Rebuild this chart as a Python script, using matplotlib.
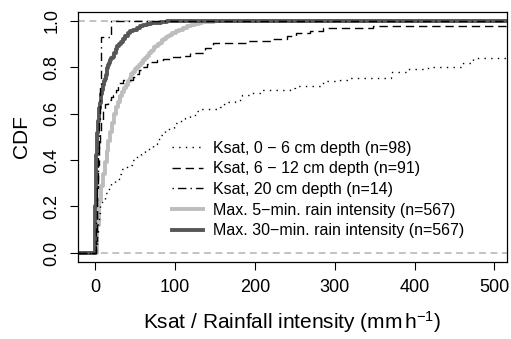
import numpy as np
import matplotlib
matplotlib.use("Agg")
import matplotlib.pyplot as plt
from matplotlib.lines import Line2D

plt.rcParams['font.family'] = ['Liberation Sans', 'DejaVu Sans']
plt.rcParams['mathtext.fontset'] = 'custom'
plt.rcParams['mathtext.rm'] = 'Liberation Sans'
plt.rcParams['mathtext.it'] = 'Liberation Sans:italic'

# ECDF knots: jump location (mm/h) and CDF after the jump
ksat_0_6_x = [1, 2, 3, 4, 5, 6, 9, 13, 17, 20, 25, 30, 33, 40, 46, 52, 57, 62,
              67, 73, 78, 83, 87, 93, 99, 106, 113, 119, 125, 131, 157, 161,
              167, 175, 184, 194, 209, 244, 250, 282, 290, 307, 319, 371, 390,
              417, 461, 473]
ksat_0_6_cdf = [0.02, 0.05, 0.09, 0.13, 0.17, 0.21, 0.23, 0.26, 0.28, 0.30,
                0.32, 0.34, 0.36, 0.38, 0.40, 0.42, 0.43, 0.44, 0.45, 0.47,
                0.49, 0.51, 0.53, 0.54, 0.56, 0.57, 0.58, 0.59, 0.61, 0.62,
                0.63, 0.64, 0.65, 0.66, 0.68, 0.69, 0.70, 0.71, 0.72, 0.73,
                0.74, 0.745, 0.755, 0.78, 0.79, 0.80, 0.82, 0.84]

ksat_6_12_x = [1, 2, 3, 4, 5, 6, 8, 10, 13, 16, 20, 23, 26, 29, 35, 48, 50,
               55, 58, 65, 68, 77, 85, 94, 106, 119, 138, 148, 190, 223, 240,
               252, 269, 285, 348]
ksat_6_12_cdf = [0.05, 0.15, 0.28, 0.38, 0.46, 0.52, 0.57, 0.61, 0.64, 0.66,
                 0.67, 0.68, 0.70, 0.73, 0.745, 0.757, 0.77, 0.788, 0.80, 0.815,
                 0.824, 0.83, 0.837, 0.843, 0.848, 0.859, 0.881, 0.903, 0.912,
                 0.923, 0.934, 0.945, 0.956, 0.967, 0.978]

# 20 cm depth: the 14 measurements
ksat_20 = [1.2, 1.8, 2.4, 3.0, 3.6, 4.2, 5.0, 5.6, 6.2, 6.6, 7.0, 7.3, 7.6, 20.5]

rain5_x = [2.4, 4.8, 7.2, 9.6, 12, 14.4, 16.8, 19.2, 21.6, 24, 26.4, 28.8,
           31.2, 33.6, 36, 38.4, 40.8, 43.2, 45.6, 48, 50.4, 52.8, 55.2, 57.6,
           60, 62.4, 64.8, 67.2, 69.6, 72, 74.4, 76.8, 79.2, 81.6, 84, 86.4,
           88.8, 91.2, 93.6, 96, 100.8, 105.6, 110.4, 115.2, 120, 124.8, 129.6,
           134.4, 139.2, 148.8, 158.4, 172.8]
rain5_cdf = [0.12, 0.23, 0.29, 0.34, 0.39, 0.44, 0.48, 0.52, 0.56, 0.60, 0.63,
             0.65, 0.675, 0.695, 0.71, 0.725, 0.74, 0.755, 0.77, 0.78, 0.79,
             0.80, 0.81, 0.82, 0.83, 0.84, 0.85, 0.86, 0.87, 0.875, 0.885,
             0.89, 0.90, 0.905, 0.915, 0.92, 0.93, 0.935, 0.94, 0.945, 0.955,
             0.962, 0.97, 0.976, 0.982, 0.986, 0.99, 0.993, 0.995, 0.997,
             0.998, 1.0]

rain30_x = [0.4, 0.8, 1.2, 1.6, 2.0, 2.4, 2.8, 3.2, 3.6, 4.0, 4.8, 5.6, 6.4,
            7.2, 8.0, 8.8, 9.6, 10.4, 11.2, 12, 13.2, 14.4, 15.6, 16.8, 18,
            19.2, 20.4, 22, 24, 26, 28, 30, 32.4, 35, 38, 41, 44, 48, 52, 56,
            60, 65, 70, 76, 82, 90, 100, 110]
rain30_cdf = [0.20, 0.30, 0.37, 0.42, 0.46, 0.49, 0.515, 0.535, 0.555, 0.57,
              0.60, 0.625, 0.645, 0.665, 0.685, 0.70, 0.715, 0.725, 0.74, 0.75,
              0.765, 0.78, 0.795, 0.81, 0.82, 0.83, 0.838, 0.845, 0.862, 0.878,
              0.89, 0.90, 0.91, 0.92, 0.935, 0.945, 0.955, 0.962, 0.97, 0.976,
              0.98, 0.984, 0.988, 0.992, 0.995, 0.997, 0.999, 1.0]

labels = ["Ksat, 0 \u2212 6 cm depth (n=98)",
          "Ksat, 6 \u2212 12 cm depth (n=91)",
          "Ksat, 20 cm depth (n=14)",
          "Max. 5\u2212min. rain intensity (n=567)",
          "Max. 30\u2212min. rain intensity (n=567)"]

light = '#bdbdbd'
dark = '#575757'
ref_grey = '#b3b3b3'


def ecdf_line(ax, xs, cdf, **kw):
    # extend the step function left at 0 and right at its last value
    x = np.r_[-1000.0, np.asarray(xs, float), 10000.0]
    y = np.r_[0.0, np.asarray(cdf, float), cdf[-1]]
    ax.step(x, y, where='post', **kw)


fig = plt.figure(figsize=(5.11, 3.39), dpi=100)
ax = fig.add_axes([78 / 511, 1 - 262 / 339, 429 / 511, 250 / 339])

# reference lines at 0 and 1
ax.axhline(0, color=ref_grey, lw=1.1, dashes=(4.5, 3), zorder=1)
ax.axhline(1, color=ref_grey, lw=1.1, dashes=(4.5, 3), zorder=1)

ecdf_line(ax, rain5_x, rain5_cdf, color=light, lw=2.8, zorder=2)
ecdf_line(ax, rain30_x, rain30_cdf, color=dark, lw=2.8, zorder=2)

styles = [dict(color='black', lw=1.0, dashes=(1, 3.8)),
          dict(color='black', lw=1.0, dashes=(6, 3.5)),
          dict(color='black', lw=1.0, dashes=(1, 3, 6, 3))]

ecdf_line(ax, ksat_0_6_x, ksat_0_6_cdf, zorder=3, **styles[0])
ecdf_line(ax, ksat_6_12_x, ksat_6_12_cdf, zorder=3, **styles[1])
k20 = np.sort(ksat_20)
ecdf_line(ax, k20, np.arange(1, len(k20) + 1) / len(k20), zorder=3, **styles[2])

ax.set_xlim(-21.3, 515.8)
ax.set_ylim(-0.039, 1.0375)
ax.set_xticks([0, 100, 200, 300, 400, 500])
ax.set_yticks([0, 0.2, 0.4, 0.6, 0.8, 1.0])
ax.set_yticklabels(["0.0", "0.2", "0.4", "0.6", "0.8", "1.0"],
                   rotation=90, va='center')
ax.tick_params(direction='out', length=5.5, width=0.8, labelsize=13)
ax.tick_params(axis='x', pad=7)
ax.tick_params(axis='y', pad=7)
for s in ax.spines.values():
    s.set_linewidth(0.9)

fig.text((78 + 507) / 2 / 511, 1 - 329 / 339,
         'Ksat / Rainfall intensity (mm$\\,$h$^{-1}$)',
         ha='center', va='baseline', fontsize=15)
fig.text(21 / 511, 1 - 137 / 339, 'CDF', rotation=90,
         ha='center', va='center', fontsize=15)

handles = [Line2D([], [], **styles[0]),
           Line2D([], [], **styles[1]),
           Line2D([], [], **styles[2]),
           Line2D([], [], color=light, lw=2.8),
           Line2D([], [], color=dark, lw=2.8)]
fig.legend(handles, labels, loc='upper left',
           bbox_to_anchor=(171.7 / 511, 1 - 140.5 / 339),
           frameon=False, fontsize=11.5, borderpad=0, borderaxespad=0,
           handlelength=1.98, handletextpad=0.6, labelspacing=0.36)

fig.savefig('out.png', dpi=100)
